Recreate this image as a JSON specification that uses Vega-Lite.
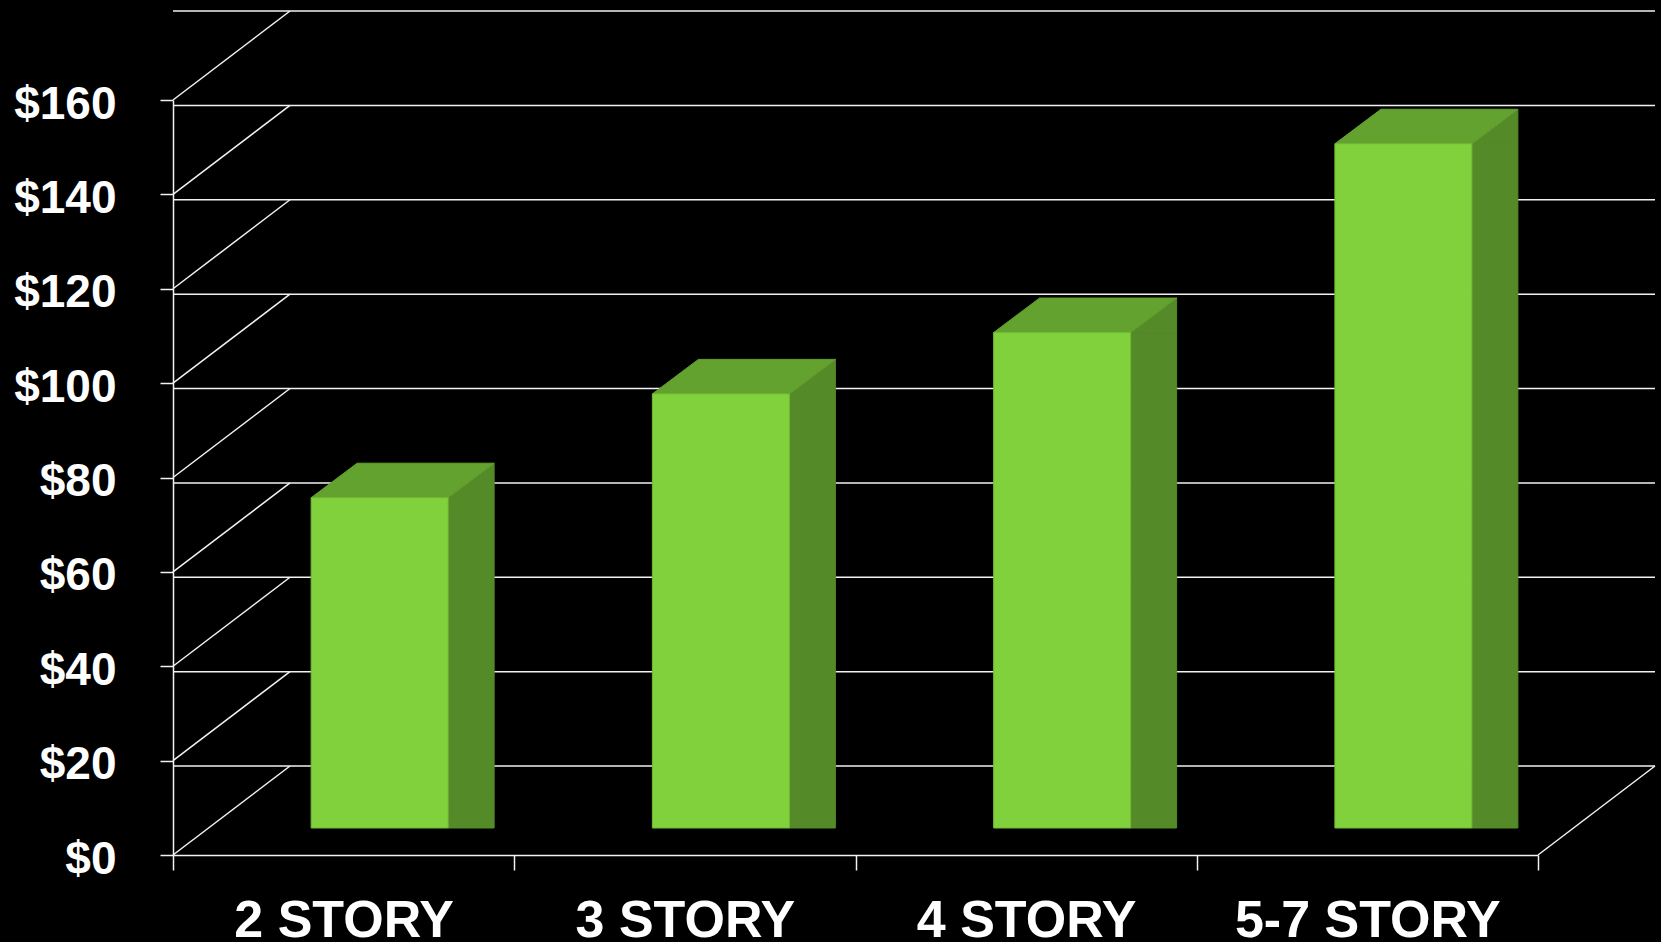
{
  "$schema": "https://vega.github.io/schema/vega-lite/v6.json",
  "width": 1365,
  "height": 755,
  "autosize": {"type": "none"},
  "padding": {"left": 173, "top": 100, "right": 123, "bottom": 87},
  "background": "#000000",
  "config": {
    "view": {"stroke": null},
    "font": "Liberation Sans",
    "axis": {
      "grid": false,
      "labelFont": "Liberation Sans", "labelFontWeight": "bold", "labelColor": "#ffffff",
      "tickColor": "#f2f2f2", "tickWidth": 1.5, "domainColor": "#f2f2f2", "domainWidth": 1.5
    },
    "axisX": {"labelAngle": 0, "labelFontSize": 52, "labelPadding": 25, "labelLimit": 0, "tickSize": 15, "tickBand": "extent"},
    "axisY": {"labelFontSize": 46, "labelPadding": 44, "labelOffset": 4, "labelLimit": 0, "tickSize": 13}
  },
  "datasets": {
    "bars": [
      {"cat": "2 STORY", "price": 70},
      {"cat": "3 STORY", "price": 92},
      {"cat": "4 STORY", "price": 105},
      {"cat": "5-7 STORY", "price": 145}
    ],
    "ticks": [
      {"v": 0}, {"v": 20}, {"v": 40}, {"v": 60}, {"v": 80},
      {"v": 100}, {"v": 120}, {"v": 140}, {"v": 160}
    ]
  },
  "layer": [
    {
      "data": {"name": "ticks"},
      "mark": {"type": "rule", "color": "#f2f2f2", "strokeWidth": 1.5, "xOffset": 117, "x2Offset": 117, "yOffset": -89},
      "encoding": {
        "y": {"field": "v", "type": "quantitative", "title": null}
      }
    },
    {
      "data": {"name": "ticks"},
      "mark": {"type": "rule", "color": "#f2f2f2", "strokeWidth": 1.5, "x2Offset": 117, "y2Offset": -89},
      "encoding": {
        "x": {"datum": "2 STORY", "bandPosition": 0, "title": null},
        "x2": {"datum": "2 STORY", "bandPosition": 0},
        "y": {"field": "v", "type": "quantitative", "title": null},
        "y2": {"field": "v"}
      }
    },
    {
      "data": {"name": "ticks"},
      "transform": [{"filter": "datum.v === 0"}],
      "mark": {"type": "rule", "color": "#f2f2f2", "strokeWidth": 1.5, "x2Offset": 117, "y2Offset": -89},
      "encoding": {
        "x": {"datum": "5-7 STORY", "bandPosition": 1, "title": null},
        "x2": {"datum": "5-7 STORY", "bandPosition": 1},
        "y": {"field": "v", "type": "quantitative", "title": null},
        "y2": {"field": "v"}
      }
    },
    {
      "data": {"name": "bars"},
      "mark": {"type": "bar", "size": 46, "xOffset": 127.5, "yOffset": -27, "y2Offset": -61.5, "color": "#558a29", "stroke": "#558a29", "strokeWidth": 1},
      "encoding": {
        "x": {"field": "cat", "type": "nominal", "title": null},
        "y": {"field": "price", "type": "quantitative", "title": null}
      }
    },
    {
      "data": {"name": "bars"},
      "mark": {"type": "point", "shape": "M 68.5 0 L 114.5 -34.5 L 114.5 0 Z", "size": 4, "filled": true, "opacity": 1, "fill": "#558a29", "stroke": "#558a29", "strokeWidth": 1, "xOffset": 36, "yOffset": -27},
      "encoding": {
        "x": {"field": "cat", "type": "nominal", "title": null},
        "y": {"field": "price", "type": "quantitative", "title": null}
      }
    },
    {
      "data": {"name": "bars"},
      "mark": {"type": "point", "shape": "M 68.5 -34.5 L 68.5 0 L 114.5 -34.5 Z", "size": 4, "filled": true, "opacity": 1, "fill": "#558a29", "stroke": "#558a29", "strokeWidth": 1, "xOffset": 36, "yOffset": -27},
      "encoding": {
        "x": {"field": "cat", "type": "nominal", "title": null},
        "y": {"datum": 0, "type": "quantitative", "title": null}
      }
    },
    {
      "data": {"name": "bars"},
      "mark": {"type": "point", "shape": "M -68.5 0 L 68.5 0 L 114.5 -34.5 L -22.5 -34.5 Z", "size": 4, "filled": true, "opacity": 1, "fill": "#63a22e", "stroke": "#63a22e", "strokeWidth": 1, "xOffset": 36, "yOffset": -27},
      "encoding": {
        "x": {"field": "cat", "type": "nominal", "title": null},
        "y": {"field": "price", "type": "quantitative", "title": null}
      }
    },
    {
      "data": {"name": "bars"},
      "mark": {"type": "bar", "size": 137, "xOffset": 36, "yOffset": -27, "y2Offset": -27, "color": "#80d13b", "stroke": "#72bb35", "strokeWidth": 1},
      "encoding": {
        "x": {
          "field": "cat", "type": "nominal", "title": null,
          "scale": {"domain": ["2 STORY", "3 STORY", "4 STORY", "5-7 STORY"], "paddingInner": 0, "paddingOuter": 0}
        },
        "y": {
          "field": "price", "type": "quantitative", "title": null,
          "scale": {"domain": [0, 160], "nice": false, "zero": true},
          "axis": {"values": [0, 20, 40, 60, 80, 100, 120, 140, 160], "format": "$.0f"}
        }
      }
    }
  ]
}
